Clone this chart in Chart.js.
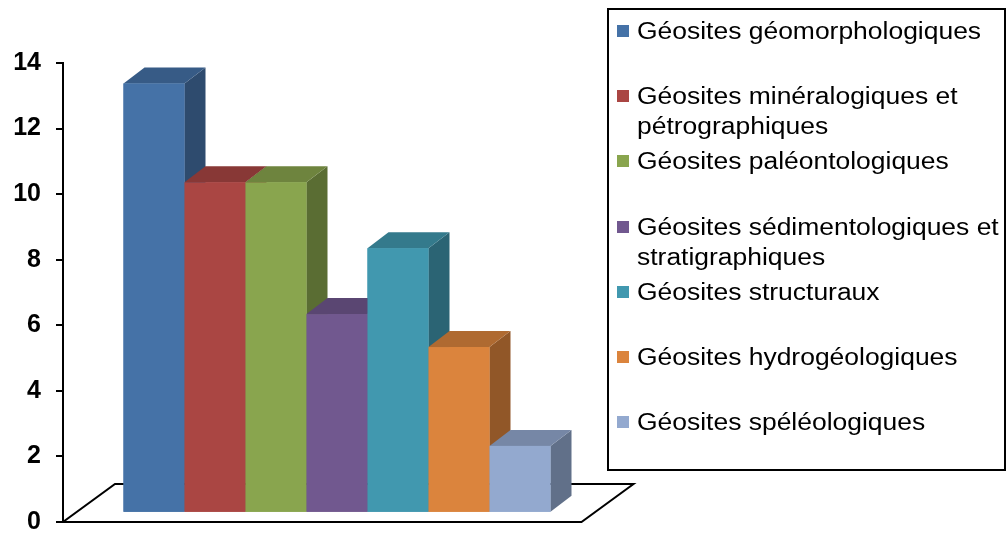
<!DOCTYPE html>
<html><head><meta charset="utf-8">
<script src="https://cdn.jsdelivr.net/npm/chart.js@4.4.0/dist/chart.umd.min.js"></script>
<style>
html,body{margin:0;padding:0;background:#fff;overflow:hidden;}
#wrap{position:relative;width:1006px;height:533px;}
#c{position:absolute;left:0;top:0;}
#legend{position:absolute;left:607px;top:8px;width:399px;height:463px;box-sizing:border-box;border:2px solid #000;font-family:"Liberation Sans",Arial,sans-serif;color:#000;}
.item{position:absolute;left:0;width:100%;}
.sw{position:absolute;left:8px;top:9px;width:12px;height:12px;}
.tx{position:absolute;left:28px;top:0;width:322px;font-size:23px;line-height:30px;transform:scaleX(1.15);transform-origin:0 0;}
</style></head>
<body>
<div id="wrap">
<canvas id="c" width="1006" height="533"></canvas>
<div id="legend"></div>
</div>
<script>
const categories = ['Géosites'];
const seriesNames = [
  'Géosites géomorphologiques',
  'Géosites minéralogiques et pétrographiques',
  'Géosites paléontologiques',
  'Géosites sédimentologiques et stratigraphiques',
  'Géosites structuraux',
  'Géosites hydrogéologiques',
  'Géosites spéléologiques'
];
const values = [13, 10, 10, 6, 8, 5, 2];
const colors = ['#4572A7','#AA4643','#89A54E','#71588F','#4198AF','#DB843D','#93A9CF'];
const yTickMin = 0, yTickMax = 14, yTickStep = 2;

function shade(hex, f){
  const n = parseInt(hex.slice(1),16);
  const r = Math.round(((n>>16)&255)*f), g = Math.round(((n>>8)&255)*f), b = Math.round((n&255)*f);
  return 'rgb('+r+','+g+','+b+')';
}

const DX = 21, DY = -16;      // bar depth
const FDX = 52, FDY = -38;    // floor depth

const bars3d = {
  id: 'bars3d',
  beforeDatasetsDraw(chart){
    const ctx = chart.ctx;
    const y = chart.scales.y;
    const metas = chart.getSortedVisibleDatasetMetas();
    const last = metas[metas.length-1].data[0];
    const x0 = chart.chartArea.left;
    const y0 = y.getPixelForValue(0);
    const x1 = last.x + last.width/2 + 31;
    ctx.save();
    ctx.strokeStyle = '#000';
    ctx.lineWidth = 2;
    ctx.beginPath();
    ctx.moveTo(x0, y0);
    ctx.lineTo(x1, y0);
    ctx.lineTo(x1+FDX, y0+FDY);
    ctx.lineTo(x0+FDX, y0+FDY);
    ctx.closePath();
    ctx.stroke();
    ctx.restore();
  },
  afterDatasetsDraw(chart){
    const ctx = chart.ctx;
    ctx.save();
    chart.getSortedVisibleDatasetMetas().forEach((meta) => {
      const col = chart.data.datasets[meta.index].backgroundColor;
      meta.data.forEach((bar) => {
        const l = bar.x - bar.width/2, r = bar.x + bar.width/2;
        const t = bar.y, b = bar.base;
        ctx.fillStyle = shade(col, 0.66);
        ctx.beginPath();
        ctx.moveTo(r, t); ctx.lineTo(r+DX, t+DY); ctx.lineTo(r+DX, b+DY); ctx.lineTo(r, b);
        ctx.closePath(); ctx.fill();
        ctx.fillStyle = shade(col, 0.8);
        ctx.beginPath();
        ctx.moveTo(l, t); ctx.lineTo(r, t); ctx.lineTo(r+DX, t+DY); ctx.lineTo(l+DX, t+DY);
        ctx.closePath(); ctx.fill();
        ctx.fillStyle = col;
        ctx.fillRect(l, t, r-l, b-t);
      });
    });
    ctx.restore();
  }
};

const datasets = seriesNames.map((name, i) => ({
  label: name,
  data: [values[i]],
  backgroundColor: colors[i],
  borderWidth: 0,
  yAxisID: 'yb',
  barPercentage: 1,
  categoryPercentage: 427/548
}));

new Chart(document.getElementById('c'), {
  type: 'bar',
  data: { labels: categories, datasets },
  plugins: [bars3d],
  options: {
    responsive: false,
    animation: false,
    devicePixelRatio: 1,
    layout: { padding: { left: 0, top: 63, right: 395, bottom: 11 } },
    plugins: { legend: { display: false }, tooltip: { enabled: false } },
    scales: {
      x: { display: false },
      y: {
        position: 'left',
        min: yTickMin, max: yTickMax,
        ticks: {
          stepSize: yTickStep,
          color: '#000',
          padding: 15,
          font: { family: '"Liberation Sans", Arial, sans-serif', size: 25, weight: 'bold' }
        },
        grid: { drawOnChartArea: false, drawTicks: true, tickLength: 7, color: '#000', lineWidth: 2 },
        border: { display: true, color: '#000', width: 2 },
        afterFit(scale){ scale.width = 63; scale.paddingTop = 0; scale.paddingBottom = 0; }
      },
      yb: {
        display: false,
        position: 'left',
        min: -0.31, max: 13.62
      }
    }
  }
});

const leg = document.getElementById('legend');
seriesNames.forEach((name, i) => {
  const it = document.createElement('div');
  it.className = 'item';
  it.style.top = (6 + i*65.2) + 'px';
  const sw = document.createElement('div');
  sw.className = 'sw';
  sw.style.background = colors[i];
  const tx = document.createElement('div');
  tx.className = 'tx';
  tx.textContent = name;
  it.appendChild(sw); it.appendChild(tx);
  leg.appendChild(it);
});
</script>
</body></html>
